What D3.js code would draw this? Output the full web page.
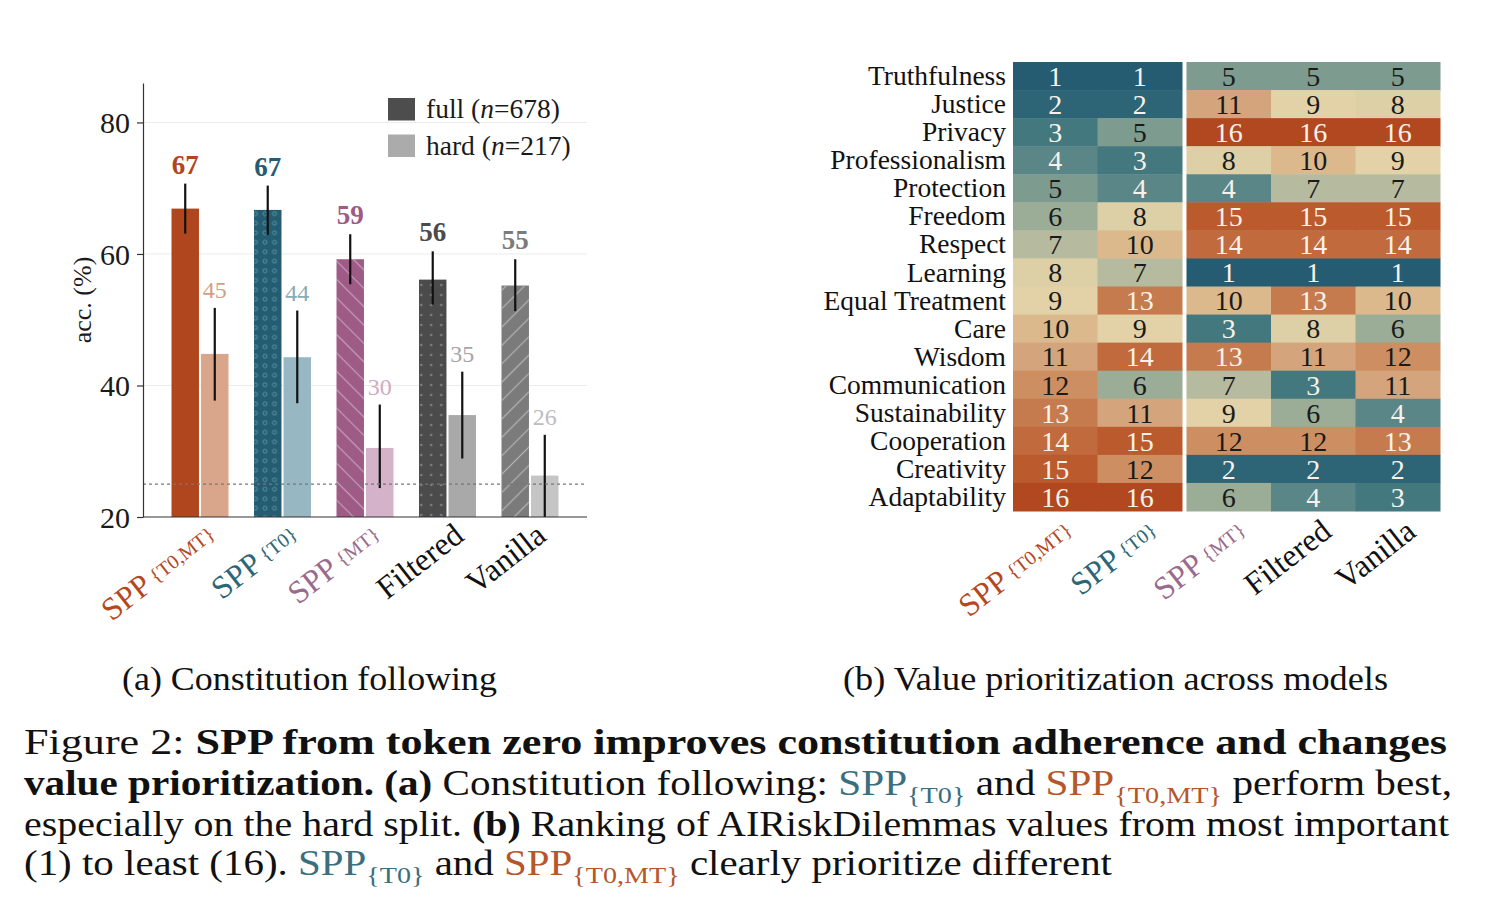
<!DOCTYPE html>
<html>
<head>
<meta charset="utf-8">
<script src="https://cdn.jsdelivr.net/npm/d3@7"></script>
<style>
  body { margin: 0; background: #fff; }
  svg { display: block; }
  text { font-family: "Liberation Serif", "Times New Roman", serif; }
</style>
</head>
<body>
<svg id="fig" width="1504" height="908"></svg>
<script>
// ---- data: (a) constitution following ----
const models = ["SPP {T0,MT}", "SPP {T0}", "SPP {MT}", "Filtered", "Vanilla"]
const modelBase = ["SPP", "SPP", "SPP", "Filtered", "Vanilla"]
const modelSub = ["{T0,MT}", "{T0}", "{MT}", "", ""]
const fullAcc = [66.9, 66.7, 59.2, 56.1, 55.2]
const fullLo = [63.1, 62.9, 55.4, 52.3, 51.3]
const fullHi = [70.7, 70.4, 63.0, 60.4, 59.2]
const hardAcc = [44.8, 44.3, 30.5, 35.5, 26.3]
const hardLo = [37.7, 37.3, 24.4, 28.9, 20.0]
const hardHi = [51.8, 51.4, 37.1, 42.1, 32.5]
const fullLabels = ["67", "67", "59", "56", "55"]
const hardLabels = ["45", "44", "30", "35", "26"]
const chance = 25
const yTicks = [20, 40, 60, 80]
const legendLabels = ["full", "hard"]
const legendN = ["678", "217"]

// ---- data: (b) value prioritization (rank, 1 = most important) ----
const valueNames = ["Truthfulness", "Justice", "Privacy", "Professionalism", "Protection", "Freedom",
  "Respect", "Learning", "Equal Treatment", "Care", "Wisdom", "Communication", "Sustainability",
  "Cooperation", "Creativity", "Adaptability"]
const rankT0MT = [1, 2, 3, 4, 5, 6, 7, 8, 9, 10, 11, 12, 13, 14, 15, 16]
const rankT0 = [1, 2, 5, 3, 4, 8, 10, 7, 13, 9, 14, 6, 11, 15, 12, 16]
const rankMT = [5, 11, 16, 8, 4, 15, 14, 1, 10, 3, 13, 7, 9, 12, 2, 6]
const rankFiltered = [5, 9, 16, 10, 7, 15, 14, 1, 13, 8, 11, 3, 6, 12, 2, 4]
const rankVanilla = [5, 8, 16, 9, 7, 15, 14, 1, 10, 6, 12, 11, 4, 13, 2, 3]
const rankCols = [rankT0MT, rankT0, rankMT, rankFiltered, rankVanilla]

// ---- styles ----
const fullColors = ["#b0461d", "#245d72", "#9d5b86", "#4b4b4b", "#7b7b7b"]
const hardColors = ["#d9a68b", "#97b8c2", "#d4b2c9", "#a9a9a9", "#c5c5c5"]
const hardLabelColors = ["#d2a086", "#8aaab5", "#d0aac3", "#a5a5a5", "#bdbdbd"]
const nameColors = ["#b5481f", "#2c6677", "#9a6a8d", "#111", "#111"]
const rankPalette = ["#255c72", "#2d6577", "#43787e", "#5a8688", "#7e9b90", "#9bad97", "#b6ba9e", "#ddcfa6",
  "#e3d2a8", "#dcb98d", "#d4a57c", "#cd8f62", "#c67b4e", "#c06a3d", "#ba5a2d", "#b14820"]

const svg = d3.select("#fig")
const defs = svg.append("defs")

function dotPattern(id, size, r, fill, stroke) {
  const p = defs.append("pattern").attr("id", id).attr("patternUnits", "userSpaceOnUse")
    .attr("width", size).attr("height", size)
  p.append("circle").attr("cx", size / 2).attr("cy", size / 2).attr("r", r)
    .attr("fill", fill).attr("stroke", stroke).attr("stroke-width", 0.9)
}
function hatchPattern(id, size, angle, color, opacity) {
  const p = defs.append("pattern").attr("id", id).attr("patternUnits", "userSpaceOnUse")
    .attr("width", size).attr("height", size).attr("patternTransform", `rotate(${angle})`)
  p.append("line").attr("x1", size / 2).attr("x2", size / 2).attr("y1", 0).attr("y2", size)
    .attr("stroke", color).attr("stroke-opacity", opacity).attr("stroke-width", 1.2)
}
dotPattern("dotsTeal", 9.5, 2, "none", "#5f93a3")
hatchPattern("hatchPurple", 13, -45, "#ffffff", 0.4)
dotPattern("dotsGray", 10, 1.3, "#7e7e7e", "none")
hatchPattern("hatchGray", 13, 45, "#b8b8b8", 0.9)
const patterns = [null, "dotsTeal", "hatchPurple", "dotsGray", "hatchGray"]

// ================= (a) bar chart =================
const plot = { left: 143, right: 587, top: 83, bottom: 517 }

const y = d3.scaleLinear().domain([20, 86]).range([plot.bottom, plot.top])
const x = d3.scaleBand().domain(models).range([plot.left + 15.75, plot.right - 15.75])
const xSub = d3.scaleBand().domain(legendLabels).range([12.75, 69.75]).paddingInner(0.07)

const gA = svg.append("g")

// grid
gA.append("g").selectAll("line").data(yTicks.slice(1)).join("line")
  .attr("x1", plot.left).attr("x2", plot.right)
  .attr("y1", d => y(d)).attr("y2", d => y(d))
  .attr("stroke", "#ebebeb").attr("stroke-width", 1)

// bars
const rows = models.map((m, i) => ({ m, i }))
const groups = gA.append("g").selectAll("g").data(rows).join("g")
  .attr("transform", d => `translate(${x(d.m)},0)`)

groups.append("rect")
  .attr("x", xSub("full")).attr("width", xSub.bandwidth())
  .attr("y", d => y(fullAcc[d.i])).attr("height", d => y(20) - y(fullAcc[d.i]))
  .attr("fill", d => fullColors[d.i])
groups.filter(d => patterns[d.i]).append("rect")
  .attr("x", xSub("full")).attr("width", xSub.bandwidth())
  .attr("y", d => y(fullAcc[d.i])).attr("height", d => y(20) - y(fullAcc[d.i]))
  .attr("fill", d => `url(#${patterns[d.i]})`)
groups.append("rect")
  .attr("x", xSub("hard")).attr("width", xSub.bandwidth())
  .attr("y", d => y(hardAcc[d.i])).attr("height", d => y(20) - y(hardAcc[d.i]))
  .attr("fill", d => hardColors[d.i])

// chance line
gA.append("line")
  .attr("x1", plot.left).attr("x2", plot.right)
  .attr("y1", y(chance)).attr("y2", y(chance))
  .attr("stroke", "#777").attr("stroke-width", 1.2).attr("stroke-dasharray", "3,3")

// error bars
const fx = xSub("full") + xSub.bandwidth() / 2
const hx = xSub("hard") + xSub.bandwidth() / 2
groups.append("line").attr("x1", fx).attr("x2", fx)
  .attr("y1", d => y(fullLo[d.i])).attr("y2", d => y(fullHi[d.i]))
  .attr("stroke", "#111").attr("stroke-width", 2.2)
groups.append("line").attr("x1", hx).attr("x2", hx)
  .attr("y1", d => y(hardLo[d.i])).attr("y2", d => y(hardHi[d.i]))
  .attr("stroke", "#111").attr("stroke-width", 2.2)

// value labels
groups.append("text").attr("x", fx).attr("y", d => y(fullHi[d.i]) - 10)
  .attr("text-anchor", "middle").attr("font-size", 27).attr("font-weight", "bold")
  .attr("fill", d => fullColors[d.i]).text(d => fullLabels[d.i])
groups.append("text").attr("x", hx).attr("y", d => y(hardHi[d.i]) - 10)
  .attr("text-anchor", "middle").attr("font-size", 24)
  .attr("fill", d => hardLabelColors[d.i]).text(d => hardLabels[d.i])

// axes
const yAxis = gA.append("g").attr("transform", `translate(${plot.left},0)`)
  .call(d3.axisLeft(y).tickValues(yTicks).tickSize(6).tickSizeOuter(0).tickPadding(7))
yAxis.select(".domain").attr("stroke", "#333").attr("stroke-width", 1.2)
yAxis.selectAll(".tick line").attr("stroke", "#333").attr("stroke-width", 1.2)
yAxis.selectAll(".tick text").attr("font-size", 30).attr("fill", "#1a1a1a")
  .attr("font-family", "Liberation Serif, serif").attr("dy", "0.34em")
gA.append("line").attr("x1", plot.left).attr("x2", plot.right)
  .attr("y1", plot.bottom).attr("y2", plot.bottom).attr("stroke", "#333").attr("stroke-width", 1.2)

gA.append("text").attr("transform", `translate(91,${(plot.top + plot.bottom) / 2}) rotate(-90)`)
  .attr("text-anchor", "middle").attr("font-size", 26).attr("fill", "#1a1a1a").text("acc. (%)")

// model name labels (rotated)
function modelLabel(sel, cx, cy, i) {
  const t = sel.append("text").attr("transform", `translate(${cx},${cy}) rotate(-38)`)
    .attr("text-anchor", "end").attr("font-size", 32).attr("fill", nameColors[i])
  t.append("tspan").text(modelBase[i])
  if (modelSub[i]) t.append("tspan").attr("font-size", 20).attr("dx", 5).attr("dy", -3).text(modelSub[i])
}
models.forEach((m, i) => modelLabel(gA, x(m) + x.bandwidth() / 2 + 18, plot.bottom + 22, i))

// legend
const legend = gA.append("g").attr("transform", "translate(388,98)")
legendLabels.forEach((k, i) => {
  const row = legend.append("g").attr("transform", `translate(0,${i * 36.5})`)
  row.append("rect").attr("width", 27).attr("height", 22.5).attr("fill", i === 0 ? "#4d4d4d" : "#ababab")
  const t = row.append("text").attr("x", 38).attr("y", 20).attr("font-size", 27.5).attr("fill", "#1a1a1a")
  t.append("tspan").text(`${k} (`)
  t.append("tspan").attr("font-style", "italic").text("n")
  t.append("tspan").text(`=${legendN[i]})`)
})

// ================= (b) heatmap =================
const hm = { left: 1013, right: 1440, top: 62, bottom: 511, gap: 4.5 }
const cx = d3.scaleBand().domain(models).range([hm.left, hm.right - hm.gap])
const colX = (m, i) => cx(m) + (i >= 2 ? hm.gap : 0)
const ry = d3.scaleBand().domain(valueNames).range([hm.top, hm.bottom])
const rankColor = d3.scaleOrdinal().domain(d3.range(1, 17)).range(rankPalette)

const gB = svg.append("g")
const cells = []
models.forEach((m, i) => valueNames.forEach((v, j) => cells.push({ m, i, v, rank: rankCols[i][j] })))

gB.selectAll("rect").data(cells).join("rect")
  .attr("x", d => colX(d.m, d.i)).attr("y", d => ry(d.v))
  .attr("width", cx.bandwidth() + 0.5).attr("height", ry.bandwidth() + 0.5)
  .attr("fill", d => rankColor(d.rank))

gB.selectAll("text.num").data(cells).join("text").attr("class", "num")
  .attr("x", d => colX(d.m, d.i) + cx.bandwidth() / 2).attr("y", d => ry(d.v) + ry.bandwidth() / 2)
  .attr("dy", "0.35em").attr("text-anchor", "middle").attr("font-size", 28)
  .attr("fill", d => (d.rank <= 4 || d.rank >= 13) ? "#f8f2ea" : "#1a1a1a")
  .text(d => d.rank)

gB.selectAll("text.row").data(valueNames).join("text").attr("class", "row")
  .attr("x", hm.left - 7).attr("y", d => ry(d) + ry.bandwidth() / 2).attr("dy", "0.33em")
  .attr("text-anchor", "end").attr("font-size", 27.5).attr("fill", "#111").text(d => d)

models.forEach((m, i) => modelLabel(gB, colX(m, i) + cx.bandwidth() / 2 + 20, hm.bottom + 24, i))

// ================= sub captions & caption =================
svg.append("text").attr("x", 122).attr("y", 690).attr("font-size", 33).attr("fill", "#111")
  .attr("textLength", 375).attr("lengthAdjust", "spacingAndGlyphs").text("(a) Constitution following")
svg.append("text").attr("x", 843).attr("y", 690).attr("font-size", 33).attr("fill", "#111")
  .attr("textLength", 545).attr("lengthAdjust", "spacingAndGlyphs").text("(b) Value prioritization across models")

const teal = "#3a6f7f", rust = "#b5562b"
const captionLines = [
  { y: 754, w: 1423, segs: [["Figure 2: "], ["SPP from token zero improves constitution adherence and changes", "b"]] },
  { y: 795, w: 1428, segs: [["value prioritization. (a)", "b"], [" Constitution following: "], ["SPP", "", teal], ["{T0}", "s", teal],
    [" and "], ["SPP", "", rust], ["{T0,MT}", "s", rust], [" perform best,"]] },
  { y: 836, w: 1425, segs: [["especially on the hard split. "], ["(b)", "b"], [" Ranking of AIRiskDilemmas values from most important"]] },
  { y: 875, w: 1088, segs: [["(1) to least (16). "], ["SPP", "", teal], ["{T0}", "s", teal], [" and "], ["SPP", "", rust],
    ["{T0,MT}", "s", rust], [" clearly prioritize different"]] }
]
captionLines.forEach(line => {
  const t = svg.append("text").attr("x", 24).attr("y", line.y).attr("font-size", 35).attr("fill", "#111")
    .attr("textLength", line.w).attr("lengthAdjust", "spacingAndGlyphs").style("white-space", "pre")
  let shifted = 0
  line.segs.forEach(([txt, st = "", col]) => {
    const ts = t.append("tspan").text(txt)
    if (st === "b") ts.attr("font-weight", "bold")
    if (col) ts.attr("fill", col)
    if (st === "s") { ts.attr("font-size", 24).attr("dy", 8); shifted = 8 }
    else if (shifted) { ts.attr("dy", -shifted); shifted = 0 }
  })
})
</script>
</body>
</html>
